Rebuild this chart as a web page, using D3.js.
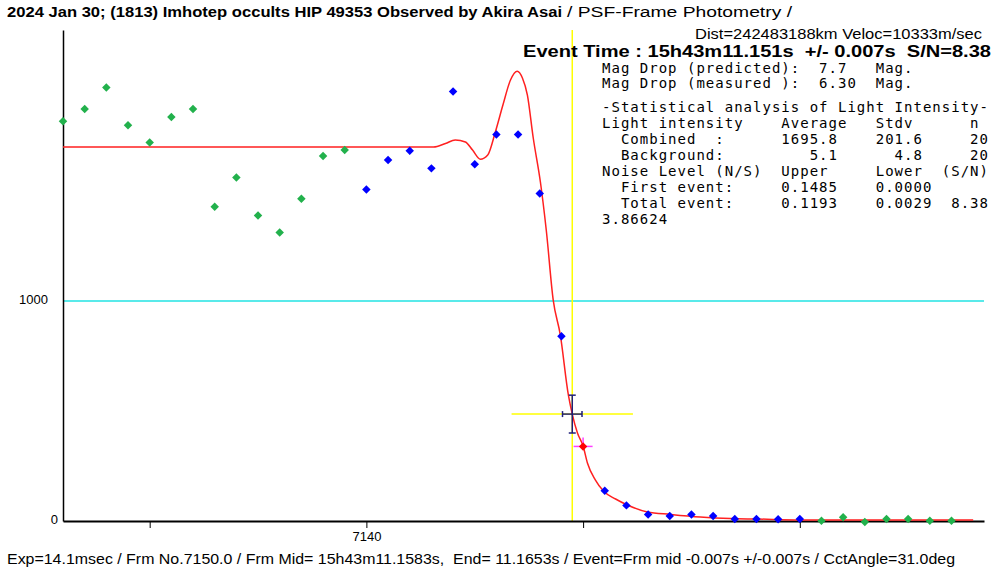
<!DOCTYPE html>
<html>
<head>
<meta charset="utf-8">
<script src="https://cdn.jsdelivr.net/npm/d3@7/dist/d3.min.js"></script>
<style>
  body { margin: 0; background: #fff; }
  svg { display: block; }
  .stat { font-family: "DejaVu Sans Mono", monospace; font-size: 14px; letter-spacing: 1.01px; white-space: pre; fill: #000; }
  .axis text { font-family: "Liberation Sans", Arial, sans-serif; font-size: 13px; fill: #000; }
</style>
</head>
<body>
<div id="chart"></div>
<script>
var svgWidth = 993;
var svgHeight = 568;

// observed frames and light intensity
var frameNo = [7126, 7127, 7128, 7129, 7130, 7131, 7132, 7133, 7134, 7135, 7136, 7137, 7138, 7139,
  7140, 7141, 7142, 7143, 7144, 7145, 7146, 7147, 7148, 7149,
  7150,
  7151, 7152, 7153, 7154, 7155, 7156, 7157, 7158, 7159, 7160,
  7161, 7162, 7163, 7164, 7165, 7166, 7167];
var intensity = [1817, 1873, 1971, 1799, 1721, 1837, 1873, 1428, 1561, 1389, 1311, 1465, 1659, 1686,
  1507, 1641, 1683, 1603, 1952, 1622, 1757, 1757, 1489, 840,
  339,
  137, 71, 30, 23, 30, 23, 9, 9, 8, 9,
  1, 17, -5, 9, 9, 1, 1];
var pointSet = ["out", "out", "out", "out", "out", "out", "out", "out", "out", "out", "out", "out", "out", "out",
  "in", "in", "in", "in", "in", "in", "in", "in", "in", "in",
  "mid",
  "in", "in", "in", "in", "in", "in", "in", "in", "in", "in",
  "out", "out", "out", "out", "out", "out", "out"];

// fitted model curve
var modelFrame = [7126.0, 7143.1, 7143.65, 7144.1, 7144.57, 7144.9, 7145.26, 7145.6, 7145.95, 7146.3, 7146.65,
  7146.96, 7147.2, 7147.43, 7147.7, 7148.03, 7148.3, 7148.62, 7148.95, 7149.32, 7149.5, 7149.74, 7150.0,
  7150.2, 7150.57, 7150.94, 7151.5, 7152.04, 7152.97, 7154.03, 7155.4, 7156.8, 7158.04, 7160.0, 7168.0];
var modelValue = [1700, 1700, 1716, 1732, 1723, 1686, 1645, 1664, 1768, 1891, 2005,
  2045, 2014, 1936, 1741, 1541, 1323, 1005, 845, 573, 486, 400, 341,
  264, 186, 136, 100, 73, 41, 30, 18, 11, 9, 5, 5];

// event
var eventFrame = 7149.5;
var eventValue = 486;
var eventFrameErr = 0.45;
var eventValueErr = 86;
var refLevel = 1000;

var xTicks = [7130, 7140, 7150, 7160];
var yTicks = [0, 1000];

var titleBold = "2024 Jan 30; (1813) Imhotep occults HIP 49353 Observed by Akira Asai";
var titleRest = "/ PSF-Frame Photometry /";
var distLine = "Dist=242483188km Veloc=10333m/sec";
var eventLine = "Event Time : 15h43m11.151s  +/- 0.007s  S/N=8.38";
var statLines = [
  "Mag Drop (predicted):  7.7   Mag.",
  "Mag Drop (measured ):  6.30  Mag.",
  "-Statistical analysis of Light Intensity-",
  "Light intensity    Average   Stdv      n",
  "  Combined  :      1695.8    201.6     20",
  "  Background:         5.1      4.8     20",
  "Noise Level (N/S)  Upper     Lower  (S/N)",
  "  First event:     0.1485    0.0000",
  "  Total event:     0.1193    0.0029  8.38",
  "3.86624"
];
var footLine = "Exp=14.1msec / Frm No.7150.0 / Frm Mid= 15h43m11.1583s,  End= 11.1653s / Event=Frm mid -0.007s +/-0.007s / CctAngle=31.0deg";

var svg = d3.select("#chart")
  .append("svg")
  .attr("width", svgWidth)
  .attr("height", svgHeight);

svg.append("rect").attr("width", svgWidth).attr("height", svgHeight).attr("fill", "#fff");

var xScale = d3.scaleLinear().domain([7126, 7168.5]).range([63, 984]);
var yScale = d3.scaleLinear().domain([0, 2232]).range([521, 30]);

// reference level line
svg.append("line")
  .attr("x1", xScale(7126)).attr("x2", xScale(7168.5))
  .attr("y1", yScale(refLevel)).attr("y2", yScale(refLevel))
  .attr("stroke", "#22e3e3").attr("stroke-width", 1.3);

// event time vertical line
svg.append("line")
  .attr("x1", xScale(eventFrame)).attr("x2", xScale(eventFrame))
  .attr("y1", 30).attr("y2", yScale(0))
  .attr("stroke", "#ffff00").attr("stroke-width", 1.5);

// y axis
var yAxis = svg.append("g")
  .attr("class", "axis")
  .attr("transform", "translate(63,0)")
  .call(d3.axisLeft(yScale).tickValues(yTicks).tickSize(0).tickSizeOuter(0).tickFormat(d3.format("d")));
yAxis.select(".domain").attr("stroke", "#000").attr("stroke-width", 1.5);
yAxis.selectAll("text")
  .attr("x", d => d === 0 ? -5 : -15)
  .attr("dy", "2");

// x axis
var xAxis = svg.append("g")
  .attr("class", "axis")
  .attr("transform", "translate(0,521)")
  .call(d3.axisBottom(xScale).tickValues(xTicks).tickSize(7).tickSizeOuter(0).tickPadding(4)
    .tickFormat(d => d === 7140 ? d : ""));
xAxis.select(".domain").attr("stroke", "#000").attr("stroke-width", 2.2);
xAxis.selectAll(".tick line").attr("stroke", "#000");

// yellow event marker
svg.append("line")
  .attr("x1", xScale(eventFrame - 2.8)).attr("x2", xScale(eventFrame + 2.8))
  .attr("y1", yScale(eventValue)).attr("y2", yScale(eventValue))
  .attr("stroke", "#ffff00").attr("stroke-width", 1.5);

// model curve
var modelData = modelFrame.map((f, i) => ({ f: f, v: modelValue[i] }));
var line = d3.line()
  .x(d => xScale(d.f))
  .y(d => yScale(d.v))
  .curve(d3.curveMonotoneX);
svg.append("path")
  .datum(modelData)
  .attr("d", line)
  .attr("fill", "none")
  .attr("stroke", "#ff2020")
  .attr("stroke-width", 1.5);

// error cross on event
var errColor = "#20207a";
var ex0 = xScale(eventFrame - eventFrameErr), ex1 = xScale(eventFrame + eventFrameErr);
var ey0 = yScale(eventValue + eventValueErr), ey1 = yScale(eventValue - eventValueErr);
var ecx = xScale(eventFrame), ecy = yScale(eventValue);
var errGroup = svg.append("g").attr("stroke", errColor).attr("stroke-width", 1.5);
errGroup.append("line").attr("x1", ex0).attr("x2", ex1).attr("y1", ecy).attr("y2", ecy);
errGroup.append("line").attr("x1", ex0).attr("x2", ex0).attr("y1", ecy - 3).attr("y2", ecy + 3);
errGroup.append("line").attr("x1", ex1).attr("x2", ex1).attr("y1", ecy - 3).attr("y2", ecy + 3);
errGroup.append("line").attr("x1", ecx).attr("x2", ecx).attr("y1", ey0).attr("y2", ey1);
errGroup.append("line").attr("x1", ecx - 3.5).attr("x2", ecx + 3.5).attr("y1", ey0).attr("y2", ey0);
errGroup.append("line").attr("x1", ecx - 3.5).attr("x2", ecx + 3.5).attr("y1", ey1).attr("y2", ey1);

// points
var pointData = frameNo.map((f, i) => ({ f: f, v: intensity[i], s: pointSet[i] }));
var colorOf = { out: "#22b14c", "in": "#0000ff", mid: "#ff0000" };

// magenta cross on mid-frame point
pointData.filter(d => d.s === "mid").forEach(function(d) {
  var px = xScale(d.f), py = yScale(d.v);
  svg.append("line").attr("x1", px - 9.5).attr("x2", px + 9.5).attr("y1", py).attr("y2", py)
    .attr("stroke", "#ff40ff").attr("stroke-width", 1.5);
  svg.append("line").attr("x1", px).attr("x2", px).attr("y1", py - 9).attr("y2", py + 3)
    .attr("stroke", "#ff40ff").attr("stroke-width", 1.5);
});

var diamond = d3.symbol().type(d3.symbolSquare).size(36);
svg.append("g").selectAll("path")
  .data(pointData)
  .enter()
  .append("path")
  .attr("d", diamond)
  .attr("transform", d => `translate(${xScale(d.f)},${yScale(d.v)}) rotate(45)`)
  .attr("fill", d => colorOf[d.s]);

// header texts
svg.append("text")
  .attr("x", 7).attr("y", 17)
  .attr("textLength", 555).attr("lengthAdjust", "spacingAndGlyphs")
  .style("font-family", "Liberation Sans, Arial, sans-serif")
  .style("font-size", "14px").style("font-weight", "bold")
  .text(titleBold);
svg.append("text")
  .attr("x", 567).attr("y", 17)
  .attr("textLength", 225).attr("lengthAdjust", "spacingAndGlyphs")
  .style("font-family", "Liberation Sans, Arial, sans-serif")
  .style("font-size", "14px")
  .text(titleRest);
svg.append("text")
  .attr("x", 695).attr("y", 39)
  .attr("textLength", 287).attr("lengthAdjust", "spacingAndGlyphs")
  .style("font-family", "Liberation Sans, Arial, sans-serif")
  .style("font-size", "14px")
  .text(distLine);
svg.append("text")
  .attr("x", 523).attr("y", 57)
  .attr("textLength", 468).attr("lengthAdjust", "spacingAndGlyphs")
  .style("font-family", "Liberation Sans, Arial, sans-serif")
  .style("font-size", "16px").style("font-weight", "bold")
  .style("white-space", "pre")
  .text(eventLine);

// statistics block
var statY = [72.5, 88, 112, 128, 144, 160, 176, 192, 208, 224];
svg.append("g").selectAll("text")
  .data(statLines)
  .enter()
  .append("text")
  .attr("class", "stat")
  .attr("x", 602)
  .attr("y", (d, i) => statY[i])
  .text(d => d);

// footer
svg.append("text")
  .attr("x", 7).attr("y", 564)
  .attr("textLength", 948).attr("lengthAdjust", "spacingAndGlyphs")
  .style("font-family", "Liberation Sans, Arial, sans-serif")
  .style("font-size", "14px")
  .style("white-space", "pre")
  .text(footLine);
</script>
</body>
</html>
